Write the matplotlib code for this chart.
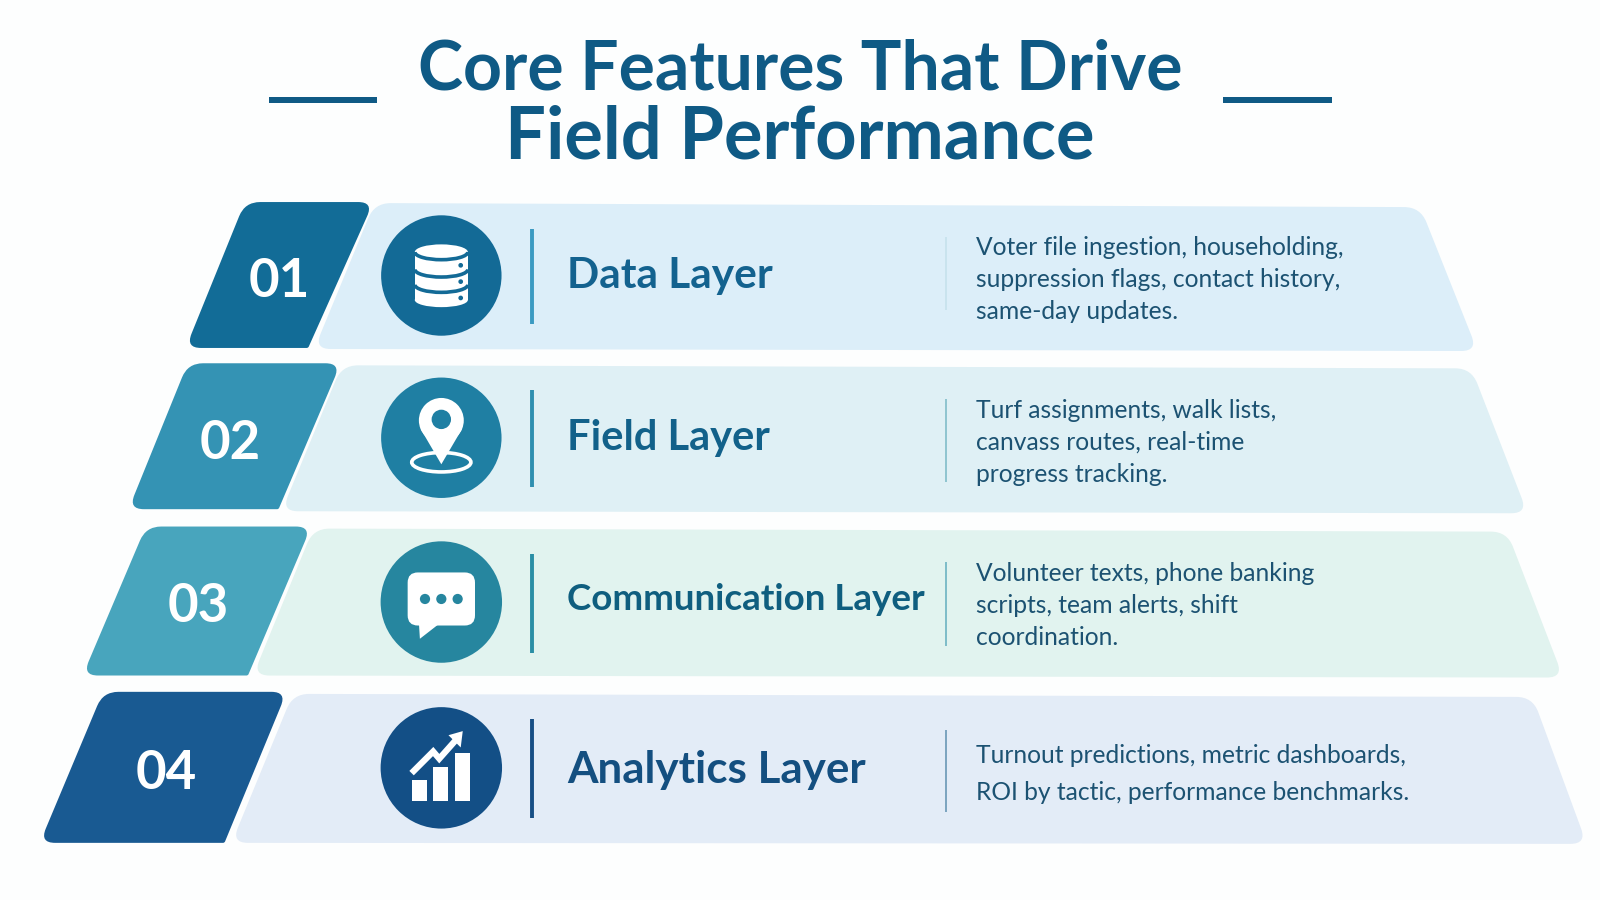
import matplotlib
matplotlib.use("Agg")
import matplotlib.pyplot as plt
from matplotlib.path import Path
from matplotlib.patches import PathPatch, Circle, Ellipse, FancyBboxPatch, Polygon, Rectangle, Arc

# ---- content ----
title_lines = ["Core Features That Drive", "Field Performance"]
numbers = ["01", "02", "03", "04"]
layers = ["Data Layer", "Field Layer", "Communication Layer", "Analytics Layer"]
descriptions = [
    ["Voter file ingestion, householding,", "suppression flags, contact history,", "same-day updates."],
    ["Turf assignments, walk lists,", "canvass routes, real-time", "progress tracking."],
    ["Volunteer texts, phone banking", "scripts, team alerts, shift", "coordination."],
    ["Turnout predictions, metric dashboards,", "ROI by tactic, performance benchmarks."],
]

# ---- colours ----
tab_colors = ["#126c97", "#3493b4", "#48a5bd", "#195a92"]
band_colors = ["#dceef9", "#dff0f5", "#e1f3ef", "#e3ecf7"]
circle_colors = ["#136a96", "#1f7fa3", "#26869f", "#134f86"]
divider_colors = ["#3b9ac2", "#2f8fb0", "#2a8ea5", "#174f85"]
thin_colors = ["#c9e3ee", "#8ec4cf", "#7dbcc8", "#7ba4bf"]
label_colors = ["#13628f", "#12618a", "#0f5e7f", "#144f80"]
text_color = "#1c5272"
title_color = "#0f5a85"

# ---- layout (canvas units) ----
tab_shapes = [
    [(240, 198), (366, 198), (302, 341), (182, 341)],
    [(184, 356), (334, 356), (273, 499), (126, 499)],
    [(143, 516), (305, 516), (243, 662), (81, 662)],
    [(101, 678), (281, 678), (220, 826), (39, 826)],
]
band_shapes = [
    [(367, 199), (1392, 203), (1448, 344), (308, 342)],
    [(335, 358), (1442, 361), (1497, 503), (276, 501)],
    [(307, 518), (1477, 521), (1532, 664), (248, 662)],
    [(287, 680), (1502, 683), (1555, 827), (227, 826)],
]
centres_y = [270, 429, 590, 752.5]
radii = [59, 59, 59.5, 59.5]
dividers = [(224, 318), (382, 477), (543, 640), (705, 802)]
thin_dividers = [(232, 304), (391, 472), (551, 633), (715, 796)]
number_pos = [(274, 275.5), (226, 434.5), (194, 594.5), (163, 758.5)]
label_y = [270, 429, 588, 755]
label_sizes = [30.5, 30, 26.5, 31.7]
desc_y = [[242.5, 274, 305.5], [402, 433.5, 465], [562, 593.5, 625], [740.5, 776.5]]
title_y = [69, 135]
title_sizes = [49, 52]
ICON_X = 432.5


def rounded(pts, r, sharp=()):
    verts, codes = [], []
    n = len(pts)
    for i in range(n):
        p = pts[i]
        a, b = pts[i - 1], pts[(i + 1) % n]
        rr = 1.5 if i in sharp else r
        def toward(q):
            d = ((q[0] - p[0]) ** 2 + (q[1] - p[1]) ** 2) ** 0.5
            return (p[0] + (q[0] - p[0]) * rr / d, p[1] + (q[1] - p[1]) * rr / d)
        s, e = toward(a), toward(b)
        verts += [s, p, e]
        codes += [Path.LINETO if i else Path.MOVETO, Path.CURVE3, Path.CURVE3]
    verts.append(verts[0])
    codes.append(Path.CLOSEPOLY)
    return Path(verts, codes)


W = "#ffffff"
fig = plt.figure(figsize=(16, 9), dpi=100, facecolor="#fdfefe")
ax = fig.add_axes([0, 0, 1, 1])
ax.set_xlim(0, 1568)
ax.set_ylim(882, 0)
ax.axis("off")


def add(p):
    ax.add_patch(p)
    return p


def icon_db(cx, cy, c):
    add(Rectangle((cx - 26, cy - 23), 52, 47, fc=W, ec="none", zorder=4))
    add(Ellipse((cx, cy - 23), 52, 15, fc=W, ec="none", zorder=4))
    add(Ellipse((cx, cy + 24), 52, 14, fc=W, ec="none", zorder=4))
    for dy in (-23, -6, 9):
        add(Arc((cx, cy + dy), 52, 15, theta1=0, theta2=180, ec=c, lw=2.6, zorder=5))
    for dy in (-10, 6, 22):
        add(Circle((cx + 19, cy + dy), 2.3, fc=c, ec="none", zorder=5))


def icon_pin(cx, cy, c):
    add(Ellipse((cx, cy + 24), 58, 19, fc="none", ec=W, lw=2.6, zorder=4))
    add(Circle((cx, cy - 17), 22, fc=W, ec="none", zorder=5))
    add(Polygon([(cx - 20.5, cy - 9), (cx, cy + 26), (cx + 20.5, cy - 9)], fc=W, ec="none", zorder=5))
    add(Circle((cx, cy - 18), 9.5, fc=c, ec="none", zorder=6))


def icon_bubble(cx, cy, c):
    add(FancyBboxPatch((cx - 23, cy - 19), 46, 32, boxstyle="round,pad=10,rounding_size=10",
                       fc=W, ec="none", zorder=4))
    add(Polygon([(cx - 22, cy + 20), (cx - 21, cy + 36), (cx - 3, cy + 22)], fc=W, ec="none", zorder=4))
    for dx in (-16, 0, 16):
        add(Circle((cx + dx, cy - 3), 5, fc=c, ec="none", zorder=5))


def icon_chart(cx, cy, c):
    for x0, x1, y0 in [(-29, -14, 12), (-8, 7, -1), (13, 28, -15)]:
        add(Rectangle((cx + x0, cy + y0), x1 - x0, 32 - y0, fc=W, ec="none", zorder=4))
    ax.plot([cx - 27, cx - 8, cx - 2, cx + 14], [cy + 3, cy - 16, cy - 9, cy - 27],
            color=W, lw=4.5, solid_joinstyle="miter", zorder=4)
    add(Polygon([(cx + 7, cy - 32), (cx + 21, cy - 36), (cx + 19, cy - 20)], fc=W, ec="none", zorder=4))


icons = [icon_db, icon_pin, icon_bubble, icon_chart]

# title
FONT = "Lato"
for line, y, fs in zip(title_lines, title_y, title_sizes):
    ax.text(784, y, line, ha="center", va="center", fontsize=fs, fontweight="bold",
            family=FONT, color=title_color)
for x0, x1 in [(264, 369), (1199, 1305)]:
    add(Rectangle((x0, 95.5), x1 - x0, 5, fc=title_color, ec="none"))

# rows
for i in range(4):
    add(PathPatch(rounded(band_shapes[i], 16), fc=band_colors[i], ec="none", zorder=1))
    add(PathPatch(rounded(tab_shapes[i], 15, sharp=(2,)), fc=tab_colors[i], ec="none", zorder=2))
    ax.text(*number_pos[i], numbers[i], ha="center", va="center", fontsize=38, fontweight="bold",
            family=FONT, color=W, zorder=3)
    add(Circle((ICON_X, centres_y[i]), radii[i], fc=circle_colors[i], ec="none", zorder=3))
    icons[i](ICON_X, centres_y[i], circle_colors[i])
    ax.plot([521, 521], dividers[i], color=divider_colors[i], lw=2.8, solid_capstyle="butt", zorder=3)
    ax.plot([927, 927], thin_dividers[i], color=thin_colors[i], lw=1.4, solid_capstyle="butt", zorder=3)
    ax.text(556, label_y[i], layers[i], ha="left", va="center", fontsize=label_sizes[i], fontweight="bold",
            family=FONT, color=label_colors[i], zorder=3)
    for line, y in zip(descriptions[i], desc_y[i]):
        ax.text(956, y, line, ha="left", va="center", fontsize=17.7, family=FONT,
                color=text_color, zorder=3)

fig.savefig("out.png", dpi=100, facecolor=fig.get_facecolor())
